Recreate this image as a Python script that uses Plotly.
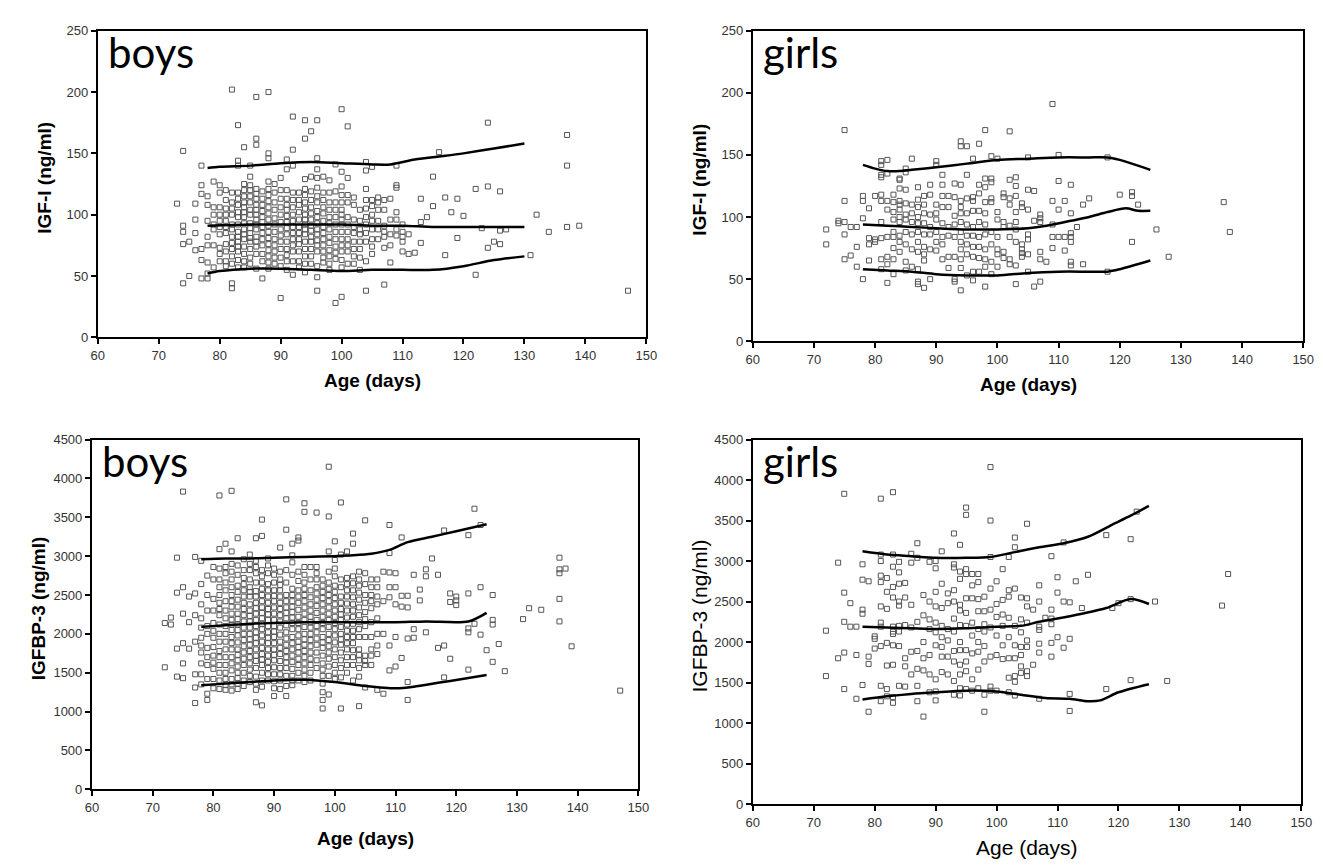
import plotly.graph_objects as go

# ---------------- data (age in days, value) ----------------
boys_igf_pts = [
    (82,202),(86,196),(88,200),(100,186),(92,180),(94,177),(96,177),(83,173),(101,172),(95,168),(124,175),
    (86,162),(86,157),(94,162),(137,165),(74,152),(84,155),(88,150),(88,146),(92,153),(116,151),
    (77,140),(83,144),(83,140),(85,140),(91,145),(92,140),(96,146),(99,141),(104,143),(104,136),(105,139),(109,140),(137,140),
    (85,131),(91,137),(96,137),(98,128),(100,135),(101,130),(115,131),(94,129),(95,131),(96,130),
    (73,109),(74,91),(74,86),(74,76),(75,78),(75,50),(74,44),(76,109),(76,96),(76,85),(76,71),(77,124),(77,117),(77,72),(77,63),(77,48),
    (78,115),(78,108),(78,95),(78,82),(78,75),(78,61),(78,52),(78,48),
    (79,127),(79,106),(79,92),(79,88),(79,57),
    (80,124),(80,118),(80,106),(80,100),(80,90),(80,73),(80,68),
    (81,120),(81,105),(81,95),(81,85),(81,76),(81,62),(81,58),
    (82,110),(82,100),(82,82),(82,72),(82,44),(82,40),
    (83,118),(83,108),(83,98),(83,92),(83,86),(83,78),(83,70),(83,63),
    (84,125),(84,115),(84,106),(84,98),(84,88),(84,80),(84,74),(84,68),(84,57),
    (85,120),(85,110),(85,100),(85,93),(85,85),(85,78),(85,65),(85,60),
    (86,121),(86,113),(86,104),(86,96),(86,88),(86,82),(86,74),
    (87,119),(87,108),(87,98),(87,90),(87,80),(87,62),(87,48),
    (88,127),(88,116),(88,106),(88,96),(88,86),(88,76),(88,66),(88,56),
    (89,125),(89,110),(89,92),(89,80),(89,70),(89,60),
    (90,130),(90,113),(90,100),(90,88),(90,78),(90,58),(90,32),
    (91,113),(91,104),(91,94),(91,84),(91,72),(91,62),(91,55),
    (92,112),(92,100),(92,90),(92,80),(92,70),(92,51),
    (93,118),(93,108),(93,96),(93,85),(93,76),(93,62),(93,57),
    (94,121),(94,110),(94,100),(94,92),(94,84),(94,72),(94,60),(94,53),
    (95,119),(95,106),(95,96),(95,87),(95,78),(95,66),
    (96,122),(96,115),(96,103),(96,93),(96,84),(96,75),(96,58),(96,49),(96,38),
    (97,131),(97,112),(97,101),(97,90),(97,80),(97,70),(97,61),
    (98,118),(98,110),(98,98),(98,88),(98,77),(98,66),(98,55),
    (99,119),(99,110),(99,92),(99,74),(99,64),(99,28),
    (100,123),(100,110),(100,100),(100,92),(100,80),(100,70),(100,57),(100,33),
    (101,116),(101,98),(101,86),(101,75),(101,60),
    (102,114),(102,96),(102,85),(102,72),(102,60),
    (103,95),(103,88),(103,78),(103,65),(103,55),
    (104,121),(104,105),(104,98),(104,62),(104,38),
    (105,112),(105,107),(105,95),(105,80),(105,68),
    (106,114),(106,110),(106,95),
    (107,112),(107,91),(107,82),(107,73),(107,43),
    (108,113),(108,75),(108,61),
    (109,124),(109,122),(109,102),(109,88),(109,83),
    (110,86),(110,82),(110,70),(111,84),(111,68),(112,69),
    (113,113),(113,94),(113,77),(114,98),(115,107),(117,114),(117,67),(118,102),
    (119,113),(119,81),(120,99),(122,121),(122,51),(123,89),(124,123),(124,73),
    (125,78),(126,119),(126,76),(126,87),(127,88),(131,67),(132,100),(134,86),(137,90),(139,91),(147,38),
]
boys_igf_pts_core = [
    (79,100),(79,75),(80,95),(80,84),(80,62),(81,112),(81,100),(81,90),(81,70),(82,118),(82,105),(82,92),(82,88),
    (82,77),(82,66),(82,60),(83,113),(83,102),(83,82),(83,74),(83,57),(84,120),(84,110),(84,102),(84,93),(84,84),
    (84,62),(85,124),(85,115),(85,104),(85,89),(85,81),(85,72),(86,117),(86,108),(86,100),(86,92),(86,78),(86,68),
    (86,56),(87,113),(87,103),(87,94),(87,85),(87,75),(87,68),(88,121),(88,111),(88,101),(88,91),(88,81),(88,71),
    (88,61),(89,118),(89,104),(89,97),(89,86),(89,75),(89,65),(90,120),(90,106),(90,94),(90,83),(90,72),(90,65),
    (91,120),(91,108),(91,99),(91,89),(91,78),(91,67),(92,118),(92,106),(92,95),(92,85),(92,75),(92,62),(93,112),
    (93,102),(93,90),(93,80),(93,70),(94,116),(94,105),(94,96),(94,88),(94,78),(94,66),(95,112),(95,101),(95,91),
    (95,82),(95,72),(95,60),(96,110),(96,98),(96,88),(96,79),(96,70),(97,118),(97,106),(97,95),(97,85),(97,75),
    (97,65),(98,104),(98,93),(98,82),(98,71),(98,60),(99,104),(99,98),(99,86),(99,80),(99,69),(100,116),(100,104),
    (100,96),(100,86),(100,75),(100,63),(101,110),(101,92),(101,80),(101,70),(102,108),(102,90),(102,78),(102,66),
    (103,104),(103,84),(103,72),(104,112),(104,92),(104,85),(104,78),(105,100),(105,88),(105,74),(106,104),(106,88),
    (106,80),(107,104),(107,86),(108,96),(108,84),(109,96),(110,78),(110,92),
]
boys_igf_p_age = [78, 80, 85, 90, 95, 100, 105, 108, 112, 117, 120, 125, 130]
boys_igf_p97 = [138, 139, 140, 142, 143, 142, 141, 141, 145, 148, 150, 154, 158]
boys_igf_p50_age = [78, 85, 90, 95, 100, 105, 110, 115, 120, 125, 130]
boys_igf_p50 = [91, 92, 92, 92, 92, 91, 91, 90, 90, 90, 90]
boys_igf_p3_age = [78, 80, 85, 90, 95, 100, 105, 110, 115, 120, 125, 130]
boys_igf_p3 = [52, 54, 56, 56, 55, 54, 55, 55, 55, 58, 63, 66]

girls_igf_pts = [
    (109,191),(75,170),(98,170),(102,169),(94,161),(94,157),(95,157),(97,159),
    (81,145),(82,146),(86,147),(90,145),(96,147),(99,149),(100,147),(110,150),(105,148),(118,148),
    (81,142),(81,134),(81,132),(82,135),(84,131),(84,130),(85,139),(85,136),(90,142),(91,134),(95,134),(98,131),
    (99,131),(99,128),(102,130),(103,132),(103,125),(105,122),(106,121),(110,129),(112,126),(84,123),(85,122),
    (87,124),(89,126),(91,126),(93,127),(94,126),(97,126),(98,124),
    (78,117),(78,113),(80,117),(79,107),(81,118),(81,113),(82,113),(82,106),(83,118),(83,112),(83,104),
    (84,113),(84,110),(84,106),(84,100),(85,111),(85,102),(86,110),(86,103),(87,114),(87,108),(87,100),
    (88,117),(88,110),(88,103),(89,118),(89,102),(90,110),(90,103),(91,117),(91,108),(92,117),(92,108),
    (93,116),(93,101),(94,113),(94,108),(94,103),(95,115),(95,103),(96,116),(96,113),(96,105),(97,119),(97,105),
    (98,112),(98,103),(99,115),(99,112),(100,104),(101,119),(101,116),(101,96),(102,110),(102,115),(103,117),(103,104),
    (104,111),(104,108),(105,106),(107,102),(107,99),(109,113),(110,106),(111,113),(112,103),(114,110),(115,115),
    (120,118),(122,120),(122,117),(123,110),(137,112),
    (72,90),(72,78),(74,97),(74,95),(75,96),(75,86),(75,113),(76,92),(77,92),(75,66),(76,69),(77,76),(77,60),
    (78,99),(78,50),(79,83),(79,78),(79,65),(80,82),(80,80),(81,96),(81,83),(81,66),(81,58),(82,84),(82,68),(82,62),(82,47),
    (83,98),(83,88),(83,84),(83,75),(83,66),(83,54),(84,96),(84,85),(84,80),(84,72),
    (85,98),(85,88),(85,78),(85,64),(85,57),(86,96),(86,86),(86,74),(86,60),
    (87,95),(87,88),(87,80),(87,72),(87,58),(87,48),(87,46),(88,95),(88,86),(88,76),(88,70),(88,65),(88,43),
    (89,92),(89,86),(89,74),(89,50),(90,98),(90,88),(90,80),(90,73),(91,95),(91,84),(91,78),(91,66),
    (92,92),(92,85),(92,68),(92,59),(93,94),(93,84),(93,68),(93,50),(93,48),
    (94,96),(94,88),(94,80),(94,74),(94,66),(94,59),(94,41),(95,94),(95,85),(95,78),(95,70),(95,53),
    (96,92),(96,85),(96,76),(96,68),(96,56),(96,49),(97,96),(97,84),(97,76),(97,67),(97,56),
    (98,94),(98,86),(98,74),(98,66),(98,60),(98,44),(99,88),(99,78),(99,64),(99,54),
    (100,98),(100,84),(100,74),(100,70),(100,60),(101,92),(101,72),(101,67),(102,93),(102,84),(102,66),(102,62),
    (103,96),(103,90),(103,80),(103,61),(103,46),(104,78),(104,74),(104,71),(104,68),
    (105,86),(105,82),(105,70),(105,56),(106,97),(106,44),(107,96),(107,72),(107,66),(107,48),(108,64),
    (109,94),(109,84),(109,75),(110,84),(111,84),(111,73),(112,87),(112,84),(112,80),(112,64),(112,61),
    (113,92),(114,62),(118,56),(122,80),(126,90),(128,68),(138,88),
]
girls_igf_p97_age = [78, 80, 82, 84, 86, 90, 95, 100, 105, 110, 115, 118, 120, 122, 125]
girls_igf_p97 = [142, 139, 137, 137, 138, 140, 143, 146, 147, 148, 148, 148, 146, 143, 138]
girls_igf_p50_age = [78, 82, 86, 90, 95, 100, 105, 108, 112, 115, 118, 121, 123, 125]
girls_igf_p50 = [94, 93, 92, 91, 90, 90, 91, 93, 97, 100, 104, 107, 105, 105]
girls_igf_p3_age = [78, 82, 86, 90, 95, 100, 105, 110, 115, 118, 120, 125]
girls_igf_p3 = [58, 57, 56, 54, 53, 53, 55, 56, 56, 56, 58, 65]

boys_bp3_pts = [
    (99,4150),(75,3830),(81,3780),(83,3840),(92,3730),(95,3680),(95,3570),(97,3560),(99,3510),(101,3690),(88,3470),
    (105,3460),(109,3400),(123,3610),(124,3400),(122,3270),(118,3330),
    (84,3230),(87,3230),(88,3260),(91,3110),(92,3340),(93,3160),(94,3240),(94,3200),(100,3190),(103,3290),(103,3160),
    (111,3240),(82,3160),(81,3090),(83,3060),
    (74,2980),(77,2990),(78,2940),(86,3020),(89,2970),(93,3010),(99,3060),(100,2950),(101,3020),(102,3060),(109,3040),
    (116,2970),(137,2980),
    (137,2830),(138,2840),(137,2780),(137,2450),(137,2160),(139,1840),(132,2330),(134,2310),(131,2190),(128,1520),
    (127,1870),(126,2500),(126,2180),(126,2120),(126,1640),(125,1790),(124,2600),(124,1990),(123,2130),(122,2520),
    (122,2070),(122,2020),(122,1540),(120,2430),(120,2370),(120,2480),(119,2520),(119,2410),(119,1680),(118,1850),
    (118,1440),(117,2760),(117,1820),(115,2830),(115,2740),(115,2020),(114,2570),(114,2430),(113,2760),(113,1950),
    (113,2060),(112,2490),(112,2340),(112,1940),(112,1380),(112,1150),(111,2490),(111,2350),(111,1690),(110,2780),
    (110,2600),(110,2380),(110,1960),(110,1580),(109,2600),(109,2790),(109,2470),(109,1850),(109,1530),(108,2800),
    (108,2420),(108,2000),(108,1230),(147,1270),
    (72,1570),(73,2210),(72,2140),(73,2120),(74,2530),(74,1810),(74,1450),(75,1430),(75,1620),(75,2600),(75,2260),
    (75,1880),(76,1810),(76,2480),(76,2150),(77,1480),(77,1110),(77,1310),(77,2520),(77,2240),(77,1900),
    (78,2640),(78,2080),(78,1850),(78,1760),(78,1480),(78,1350),(79,2750),(79,2500),(79,2100),(79,1820),(79,1600),
    (79,1230),(79,1150),
    (80,2860),(80,2450),(80,2140),(80,1950),(80,1720),(80,1550),(80,1300),
    (81,2840),(81,2600),(81,2400),(81,2240),(81,2000),(81,1780),(81,1600),(81,1400),(81,1290),
    (82,2780),(82,2560),(82,2300),(82,2100),(82,1900),(82,1700),(82,1500),(82,1340),(82,1280),
    (83,2900),(83,2700),(83,2500),(83,2350),(83,2180),(83,2050),(83,1880),(83,1700),(83,1530),(83,1420),(83,1270),
    (84,2880),(84,2620),(84,2440),(84,2260),(84,2120),(84,1980),(84,1800),(84,1660),(84,1500),(84,1360),
    (85,2960),(85,2720),(85,2560),(85,2400),(85,2240),(85,2080),(85,1920),(85,1760),(85,1600),(85,1400),
    (86,2820),(86,2600),(86,2480),(86,2300),(86,2160),(86,2000),(86,1860),(86,1700),(86,1540),(86,1380),
    (87,2940),(87,2780),(87,2550),(87,2400),(87,2260),(87,2100),(87,1950),(87,1800),(87,1650),(87,1450),(87,1280),(87,1120),
    (88,2820),(88,2660),(88,2500),(88,2340),(88,2200),(88,2060),(88,1900),(88,1740),(88,1600),(88,1400),(88,1080),
    (89,2880),(89,2640),(89,2480),(89,2320),(89,2180),(89,2020),(89,1880),(89,1720),(89,1560),(89,1400),
    (90,2760),(90,2560),(90,2420),(90,2260),(90,2100),(90,1960),(90,1800),(90,1660),(90,1480),(90,1300),(90,1200),
    (91,2700),(91,2560),(91,2400),(91,2240),(91,2080),(91,1900),(91,1740),(91,1560),(91,1400),(91,1290),
    (92,2820),(92,2500),(92,2340),(92,2200),(92,2020),(92,1860),(92,1700),(92,1560),(92,1200),
    (93,2920),(93,2580),(93,2420),(93,2280),(93,2140),(93,1960),(93,1800),(93,1640),(93,1460),(93,1340),
    (94,2800),(94,2560),(94,2400),(94,2220),(94,2060),(94,1900),(94,1760),(94,1600),(94,1400),
    (95,2860),(95,2660),(95,2500),(95,2340),(95,2180),(95,2000),(95,1860),(95,1700),(95,1540),(95,1380),
    (96,2860),(96,2560),(96,2380),(96,2220),(96,2080),(96,1920),(96,1760),(96,1600),(96,1400),
    (97,2860),(97,2700),(97,2520),(97,2360),(97,2180),(97,2020),(97,1860),(97,1660),
    (98,2620),(98,2460),(98,2300),(98,2140),(98,1960),(98,1820),(98,1620),(98,1460),(98,1250),(98,1150),(98,1040),
    (99,2660),(99,2500),(99,2340),(99,2180),(99,2000),(99,1840),(99,1680),(99,1460),(99,1220),
    (100,2840),(100,2620),(100,2460),(100,2300),(100,2140),(100,1980),(100,1800),(100,1600),(100,1420),
    (101,2700),(101,2480),(101,2320),(101,2180),(101,2000),(101,1860),(101,1660),(101,1440),(101,1040),
    (102,2640),(102,2480),(102,2300),(102,2120),(102,1960),(102,1800),(102,1600),
    (103,2740),(103,2560),(103,2380),(103,2220),(103,2040),(103,1880),(103,1700),(103,1600),
    (104,2800),(104,2620),(104,2440),(104,2240),(104,2060),(104,1800),(104,1660),(104,1450),(104,1070),
    (105,2780),(105,2500),(105,2280),(105,2100),(105,1720),(105,1600),(105,1310),
    (106,2700),(106,2500),(106,2330),(106,1960),(106,1720),
    (107,2700),(107,2480),(107,2200),(107,1740),(107,1280),
]
boys_bp3_pts_core = [
    (78,2380),(78,2200),(78,1950),(78,1620),(79,2300),(79,2000),(79,1700),(79,1420),
    (80,2700),(80,2300),(80,2040),(80,1830),(80,1630),(80,1420),
    (81,2700),(81,2500),(81,2320),(81,2120),(81,1900),(81,1700),(81,1500),
    (82,2860),(82,2660),(82,2420),(82,2200),(82,2000),(82,1800),(82,1600),(82,1420),
    (83,2800),(83,2600),(83,2420),(83,2260),(83,2120),(83,1960),(83,1800),(83,1620),(83,1350),
    (84,2760),(84,2540),(84,2350),(84,2190),(84,2050),(84,1890),(84,1730),(84,1580),(84,1430),(84,1290),
    (85,2820),(85,2640),(85,2480),(85,2320),(85,2160),(85,2000),(85,1840),(85,1680),(85,1500),(85,1330),
    (86,2900),(86,2700),(86,2540),(86,2380),(86,2230),(86,2080),(86,1930),(86,1780),(86,1620),(86,1460),
    (87,2860),(87,2660),(87,2480),(87,2330),(87,2180),(87,2020),(87,1880),(87,1720),(87,1560),(87,1360),
    (88,2740),(88,2580),(88,2420),(88,2270),(88,2130),(88,1980),(88,1820),(88,1670),(88,1500),(88,1320),
    (89,2780),(89,2560),(89,2400),(89,2250),(89,2100),(89,1950),(89,1800),(89,1640),(89,1480),
    (90,2840),(90,2660),(90,2490),(90,2340),(90,2180),(90,2030),(90,1880),(90,1730),(90,1570),(90,1390),
    (91,2800),(91,2630),(91,2480),(91,2320),(91,2160),(91,1990),(91,1820),(91,1650),(91,1480),
    (92,2660),(92,2420),(92,2270),(92,2110),(92,1940),(92,1780),(92,1630),(92,1460),(92,1330),
    (93,2760),(93,2500),(93,2350),(93,2210),(93,2060),(93,1880),(93,1720),(93,1550),(93,1400),
    (94,2680),(94,2480),(94,2310),(94,2140),(94,1980),(94,1830),(94,1680),(94,1500),
    (95,2760),(95,2580),(95,2420),(95,2260),(95,2090),(95,1930),(95,1780),(95,1620),(95,1460),
    (96,2700),(96,2470),(96,2300),(96,2150),(96,2000),(96,1840),(96,1680),(96,1500),
    (97,2780),(97,2600),(97,2440),(97,2270),(97,2100),(97,1940),(97,1760),(97,1560),
    (98,2700),(98,2540),(98,2380),(98,2220),(98,2060),(98,1890),(98,1720),(98,1540),(98,1360),
    (99,2800),(99,2580),(99,2420),(99,2260),(99,2090),(99,1920),(99,1760),(99,1580),
    (100,2740),(100,2540),(100,2380),(100,2220),(100,2060),(100,1890),(100,1700),(100,1500),
    (101,2600),(101,2400),(101,2250),(101,2090),(101,1930),(101,1760),(101,1560),
    (102,2720),(102,2560),(102,2390),(102,2210),(102,2040),(102,1880),(102,1700),(102,1500),
    (103,2650),(103,2470),(103,2300),(103,2130),(103,1960),(103,1790),(103,1400),
    (104,2700),(104,2530),(104,2340),(104,2150),(104,1960),(104,1730),(104,1560),
    (105,2640),(105,2400),(105,2190),(105,1960),(105,1650),
    (106,2600),(106,2420),(106,2150),(106,1800),(106,1600),
    (107,2600),(107,2380),(107,2000),(107,1850),
]
boys_bp3_p97_age = [78, 82, 86, 90, 95, 100, 103, 106, 109, 112, 116, 120, 125]
boys_bp3_p97 = [2960, 2970, 2970, 2980, 2990, 3000, 3010, 3030, 3080, 3180, 3250, 3320, 3410]
boys_bp3_p50_age = [78, 82, 86, 90, 95, 100, 105, 110, 115, 122, 125]
boys_bp3_p50 = [2090, 2110, 2130, 2140, 2150, 2150, 2150, 2150, 2160, 2160, 2270]
boys_bp3_p3_age = [78, 82, 86, 90, 95, 100, 105, 110, 113, 117, 121, 125]
boys_bp3_p3 = [1340, 1360, 1380, 1400, 1410, 1380, 1330, 1300, 1320, 1370, 1420, 1470]

girls_bp3_pts = [
    (99,4160),(75,3830),(81,3770),(83,3850),(95,3660),(95,3570),(99,3500),(105,3460),(123,3610),(122,3270),(118,3320),
    (93,3340),(94,3200),(87,3220),(91,3120),(103,3290),(103,3170),(111,3230),(109,3060),(74,2980),(78,2960),(81,3080),
    (81,3000),(83,3080),(83,2930),(84,2990),(86,3090),(86,2980),(87,3040),(89,2990),(90,3000),(90,2910),(93,2960),
    (93,2920),(94,2870),(95,2840),(95,2900),(96,2840),(97,2840),(99,3050),(102,3050),(101,2900),(138,2840),(137,2450),
    (126,2500),(128,1520),(122,2530),(122,1530),(119,2420),(120,2480),(118,1420),(115,2830),(114,2420),(113,2750),
    (112,2490),(112,2040),(112,1360),(112,1150),(111,2500),(111,1930),(110,2800),(110,2610),(110,2060),(109,2400),
    (109,2290),(109,2220),(109,1990),(109,1820),(108,2300),(107,2700),(107,2500),(107,2190),(107,2150),(107,1980),
    (107,1870),(107,1300),
    (72,2140),(72,1580),(74,1800),(75,2610),(75,2250),(75,1870),(75,1420),(76,2480),(76,2190),(77,2190),(77,1840),
    (77,1300),(78,2770),(78,2400),(78,2350),(78,1470),(79,2750),(79,1820),(79,1730),(79,1140),(80,2040),(80,2070),
    (80,1920),(81,2820),(81,2740),(81,2440),(81,2240),(81,2190),(81,1950),(81,1460),(81,1270),(82,2790),(82,2620),
    (82,2410),(82,1990),(82,1710),(82,1420),(82,1330),(83,2680),(83,2550),(83,2190),(83,2130),(83,2100),(83,1960),
    (83,1720),(83,1320),(83,1250),(84,2860),(84,2720),(84,2500),(84,2450),(84,2200),(84,2130),(84,1950),(84,1460),
    (85,2730),(85,2550),(85,2210),(85,1800),(85,1700),(85,1450),(86,2460),(86,2180),(86,1880),(86,1600),
    (87,2250),(87,1890),(87,1670),(87,1460),(87,1270),(88,2580),(88,2330),(88,2000),(88,1800),(88,1650),(88,1080),
    (89,2500),(89,2280),(89,2160),(89,1840),(89,1600),(89,1380),
    (90,2620),(90,2440),(90,2240),(90,2120),(90,1960),(90,1540),(90,1280),(90,1390),
    (91,2720),(91,2420),(91,2200),(91,2060),(91,1940),(91,1820),(91,1630),
    (92,2600),(92,2480),(92,2160),(92,2020),(92,1820),(92,1600),
    (93,2640),(93,2500),(93,2290),(93,2130),(93,1890),(93,1760),(93,1520),(93,1350),
    (94,2780),(94,2460),(94,2390),(94,2210),(94,2000),(94,1900),(94,1720),(94,1600),(94,1430),(94,1340),
    (95,2540),(95,2360),(95,2200),(95,1900),(95,1760),(95,1640),(95,1420),
    (96,2700),(96,2540),(96,2240),(96,2080),(96,1860),(96,1540),(96,1400),
    (97,2740),(97,2530),(97,2380),(97,2160),(97,2000),(97,1880),(97,1660),(97,1430),
    (98,2560),(98,2380),(98,2220),(98,2130),(98,1950),(98,1760),(98,1350),(98,1140),
    (99,2660),(99,2400),(99,2180),(99,1820),(99,1450),(99,1400),
    (100,2750),(100,2470),(100,2310),(100,2080),(100,1840),(100,1400),
    (101,2520),(101,2340),(101,2200),(101,1960),(101,1790),
    (102,2640),(102,2560),(102,2300),(102,2060),(102,1800),(102,1560),(102,1380),
    (103,2660),(103,2200),(103,1960),(103,1800),(103,1580),(103,1510),(103,1340),
    (104,2550),(104,2280),(104,2120),(104,1940),(104,1840),(104,1700),(104,1620),
    (105,2540),(105,2440),(105,2240),(105,2020),(105,1940),(105,1640),(105,1580),
    (106,2400),(106,1720),
]
girls_bp3_p97_age = [78, 82, 86, 90, 95, 99, 103, 107, 111, 115, 119, 122, 125]
girls_bp3_p97 = [3120, 3080, 3060, 3040, 3040, 3050, 3110, 3170, 3220, 3300, 3450, 3560, 3680]
girls_bp3_p50_age = [78, 82, 86, 90, 95, 100, 104, 107, 110, 114, 118, 122, 125]
girls_bp3_p50 = [2190, 2180, 2170, 2160, 2170, 2190, 2200, 2250, 2290, 2350, 2420, 2530, 2470]
girls_bp3_p3_age = [78, 82, 86, 90, 95, 100, 104, 108, 112, 115, 117, 120, 125]
girls_bp3_p3 = [1290, 1330, 1360, 1380, 1400, 1390, 1350, 1310, 1300, 1270, 1280, 1380, 1480]

x_ticks = [60, 70, 80, 90, 100, 110, 120, 130, 140, 150]
igf_ticks = [0, 50, 100, 150, 200, 250]
bp3_ticks = [0, 500, 1000, 1500, 2000, 2500, 3000, 3500, 4000, 4500]

panels = [
    dict(pts=boys_igf_pts + boys_igf_pts_core,
         lines=[(boys_igf_p_age, boys_igf_p97), (boys_igf_p50_age, boys_igf_p50), (boys_igf_p3_age, boys_igf_p3)],
         label="boys", ytitle="IGF-I (ng/ml)", yticks=igf_ticks, yrange=[0, 250], bold=True,
         px=(84, 640), py=(16, 328), xt_off=44),
    dict(pts=girls_igf_pts,
         lines=[(girls_igf_p97_age, girls_igf_p97), (girls_igf_p50_age, girls_igf_p50), (girls_igf_p3_age, girls_igf_p3)],
         label="girls", ytitle="IGF-I (ng/ml)", yticks=igf_ticks, yrange=[0, 250], bold=True,
         px=(748, 1306), py=(16, 332), xt_off=44),
    dict(pts=boys_bp3_pts + boys_bp3_pts_core,
         lines=[(boys_bp3_p97_age, boys_bp3_p97), (boys_bp3_p50_age, boys_bp3_p50), (boys_bp3_p3_age, boys_bp3_p3)],
         label="boys", ytitle="IGFBP-3 (ng/ml)", yticks=bp3_ticks, yrange=[0, 4500], bold=True,
         px=(78, 632), py=(432, 788), xt_off=50),
    dict(pts=girls_bp3_pts,
         lines=[(girls_bp3_p97_age, girls_bp3_p97), (girls_bp3_p50_age, girls_bp3_p50), (girls_bp3_p3_age, girls_bp3_p3)],
         label="girls", ytitle="IGFBP-3 (ng/ml)", yticks=bp3_ticks, yrange=[0, 4500], bold=False,
         px=(748, 1304), py=(432, 803), xt_off=44),
]

W, H = 1323, 866
fig = go.Figure()
layout = dict(width=W, height=H, autosize=False, margin=dict(l=0, r=0, t=0, b=0),
              paper_bgcolor="white", plot_bgcolor="white", showlegend=False)
annotations = []
FONT = "Liberation Sans, Arial, sans-serif"
TICKFONT = dict(family="Liberation Sans Narrow, Arial Narrow, Liberation Sans, sans-serif", size=13, color="#333333")
LABELFONT = dict(family="Liberation Sans Narrow, Arial Narrow, Lato, sans-serif", size=42, color="black")

for i, p in enumerate(panels, start=1):
    xa = "x" if i == 1 else f"x{i}"
    ya = "y" if i == 1 else f"y{i}"
    ages = [a for a, v in p["pts"]]
    vals = [v for a, v in p["pts"]]
    fig.add_trace(go.Scatter(x=ages, y=vals, mode="markers", xaxis=xa, yaxis=ya,
                             marker=dict(symbol="square-open", size=5, color="#555555", line=dict(width=1)),
                             hoverinfo="x+y"))
    for la, lv in p["lines"]:
        fig.add_trace(go.Scatter(x=la, y=lv, mode="lines", xaxis=xa, yaxis=ya,
                                 line=dict(color="black", width=2.5, shape="spline", smoothing=0.8),
                                 hoverinfo="skip"))
    x0, x1 = p["px"]
    y0, y1 = p["py"]
    dom_x = [x0 / W, x1 / W]
    dom_y = [1 - y1 / H, 1 - y0 / H]
    layout["xaxis" if i == 1 else f"xaxis{i}"] = dict(
        domain=dom_x, range=[60, 150], tickvals=x_ticks, ticks="outside", ticklen=5, tickwidth=2,
        tickcolor="black", showline=True, linecolor="black", linewidth=2, mirror=True,
        showgrid=False, zeroline=False, anchor=ya, tickfont=TICKFONT)
    layout["yaxis" if i == 1 else f"yaxis{i}"] = dict(
        domain=dom_y, range=p["yrange"], tickvals=p["yticks"], ticks="outside", ticklen=5, tickwidth=2,
        tickcolor="black", showline=True, linecolor="black", linewidth=2, mirror=True,
        showgrid=False, zeroline=False, anchor=xa, tickfont=TICKFONT)
    # panel label
    annotations.append(dict(text=p["label"], xref="paper", yref="paper",
                            x=(x0 + 8) / W, y=1 - (y0 - 6) / H, xanchor="left", yanchor="top",
                            showarrow=False, font=LABELFONT))
    # axis titles
    if p["bold"]:
        xt = "<b>Age (days)</b>"
        yt = "<b>" + p["ytitle"] + "</b>"
        tsize = 19
    else:
        xt = "Age (days)"
        yt = p["ytitle"]
        tsize = 21
    annotations.append(dict(text=xt, xref="paper", yref="paper", x=(x0 + x1) / 2 / W,
                            y=1 - (y1 + p["xt_off"]) / H, xanchor="center", yanchor="middle", showarrow=False,
                            font=dict(family=FONT, size=tsize, color="black")))
    annotations.append(dict(text=yt, xref="paper", yref="paper", x=(x0 - 54) / W,
                            y=1 - ((y0 + y1) / 2 - 6) / H, xanchor="center", yanchor="middle", textangle=-90,
                            showarrow=False, font=dict(family=FONT, size=tsize, color="black")))

layout["annotations"] = annotations
fig.update_layout(**layout)
fig.write_html("out.html")
